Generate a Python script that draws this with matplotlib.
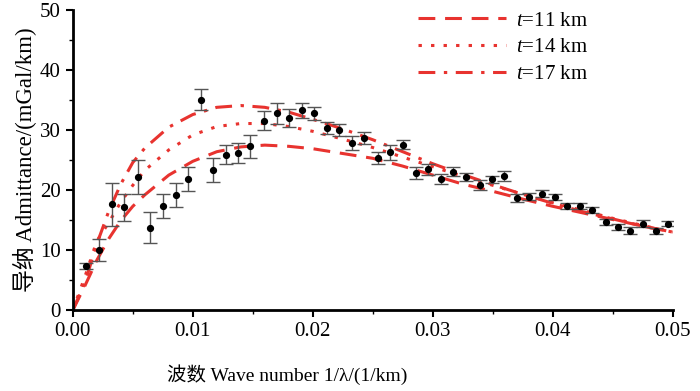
"""Admittance vs wave number with model curves."""

import matplotlib

matplotlib.use("Agg")

import matplotlib.pyplot as plt
from matplotlib.ticker import MultipleLocator

# observed admittance
wave_number = [
    0.0011, 0.0022, 0.0033, 0.0043, 0.0054, 0.0064, 0.0075, 0.0086, 0.0096, 0.0107,
    0.0117, 0.0128, 0.0138, 0.0148, 0.0159, 0.0170, 0.0180, 0.0191, 0.0201, 0.0212,
    0.0222, 0.0233, 0.0243, 0.0254, 0.0264, 0.0275, 0.0286, 0.0296, 0.0307, 0.0317,
    0.0328, 0.0339, 0.0349, 0.0359, 0.0370, 0.0380, 0.0391, 0.0402, 0.0412, 0.0423,
    0.0433, 0.0444, 0.0454, 0.0464, 0.0475, 0.0486, 0.0496,
]
admittance = [
    7.4, 10.0, 17.6, 17.1, 22.2, 13.7, 17.4, 19.2, 21.8, 35.1,
    23.4, 25.9, 26.2, 27.3, 31.6, 32.8, 32.1, 33.3, 32.8, 30.4,
    30.1, 27.9, 28.7, 25.4, 26.3, 27.6, 22.8, 23.5, 21.9, 23.1,
    22.2, 20.9, 21.8, 22.4, 18.7, 18.9, 19.4, 18.9, 17.3, 17.3,
    16.7, 14.6, 13.8, 13.2, 14.4, 13.2, 14.4,
]
admittance_err = [
    0.5, 1.8, 3.6, 2.3, 2.8, 2.6, 2.0, 2.0, 2.0, 1.7,
    2.0, 1.6, 1.6, 1.9, 1.6, 1.7, 1.5, 1.2, 1.1, 1.0,
    1.0, 1.2, 1.0, 1.0, 1.3, 0.8, 1.0, 0.9, 0.8, 0.8,
    0.7, 0.8, 0.6, 0.8, 0.6, 0.6, 0.6, 0.5, 0.5, 0.5,
    0.5, 0.5, 0.5, 0.6, 0.6, 0.5, 0.4,
]

# model curves for three elastic thicknesses
model_k = [
    0.0, 0.001, 0.002, 0.003, 0.004, 0.005, 0.006, 0.008, 0.010, 0.012,
    0.014, 0.016, 0.018, 0.020, 0.0225, 0.025, 0.0275, 0.030, 0.0325, 0.035,
    0.0375, 0.040, 0.0425, 0.045, 0.0475, 0.050,
]
model_t11 = [
    0.0, 4.0, 8.3, 11.9, 14.9, 17.3, 19.2, 22.5, 24.8, 26.4,
    27.2, 27.5, 27.3, 26.9, 26.1, 25.3, 24.0, 22.5, 21.0, 19.8,
    18.5, 17.3, 16.2, 15.1, 14.0, 13.0,
]
model_t14 = [
    0.0, 5.5, 11.5, 14.6, 18.0, 20.8, 23.3, 26.7, 29.2, 30.6,
    31.1, 31.1, 30.6, 29.8, 28.5, 27.1, 25.5, 23.9, 22.3, 20.8,
    19.3, 17.9, 16.6, 15.3, 14.1, 13.0,
]
model_t17 = [
    0.0, 4.5, 11.0, 16.5, 21.0, 24.6, 27.0, 30.5, 32.6, 33.8,
    34.1, 33.8, 33.0, 31.8, 30.2, 28.4, 26.4, 24.4, 22.6, 20.9,
    19.3, 17.8, 16.4, 15.2, 14.0, 13.0,
]
labels = ["$t$=11 km", "$t$=14 km", "$t$=17 km"]

plt.rcParams["font.family"] = ["Liberation Serif", "Noto Sans CJK SC"]
plt.rcParams["mathtext.fontset"] = "custom"
plt.rcParams["mathtext.it"] = "Liberation Serif:italic"
plt.rcParams["mathtext.rm"] = "Liberation Serif"

red = "#e8332f"

fig = plt.figure(figsize=(7.0, 3.91), dpi=100)
ax = fig.add_axes([0.104, 0.207, 0.857, 0.767])

ax.plot(model_k, model_t11, color=red, lw=2.2, dashes=(5.5, 3.2), label=labels[0])
ax.plot(model_k, model_t14, color=red, lw=2.2, dashes=(1.1, 3.0), label=labels[1])
ax.plot(model_k, model_t17, color=red, lw=2.2, dashes=(5.5, 2.8, 1.1, 2.8), label=labels[2])

ax.errorbar(wave_number, admittance, yerr=admittance_err, fmt="o", color="black",
            ms=4.2, ecolor="#555555", elinewidth=1.0, capsize=5, capthick=1.0,
            zorder=3)

ax.set_xlim(0, 0.05)
ax.set_ylim(0, 50)
ax.xaxis.set_major_locator(MultipleLocator(0.01))
ax.xaxis.set_minor_locator(MultipleLocator(0.005))
ax.yaxis.set_major_locator(MultipleLocator(10))
ax.yaxis.set_minor_locator(MultipleLocator(5))
ax.xaxis.set_major_formatter(plt.FormatStrFormatter("%.2f"))

for side in ("top", "right"):
    ax.spines[side].set_visible(False)
for side in ("left", "bottom"):
    ax.spines[side].set_linewidth(2.0)

ax.tick_params(which="major", direction="out", length=5, width=1.5, labelsize=15)
ax.tick_params(which="minor", direction="out", length=3, width=1.0)

ax.set_ylabel("导纳 Admittance/(mGal/km)", fontsize=16.5, labelpad=2)
ax.set_xlabel("波数 Wave number 1/λ/(1/km)", fontsize=14)
ax.xaxis.set_label_coords(0.358, -0.18)

ax.legend(loc="upper left", bbox_to_anchor=(0.545, 1.06), frameon=False,
          fontsize=15, handlelength=4.2, handletextpad=0.5, labelspacing=0.35)

fig.savefig("out.png", dpi=100)
plt.close(fig)
